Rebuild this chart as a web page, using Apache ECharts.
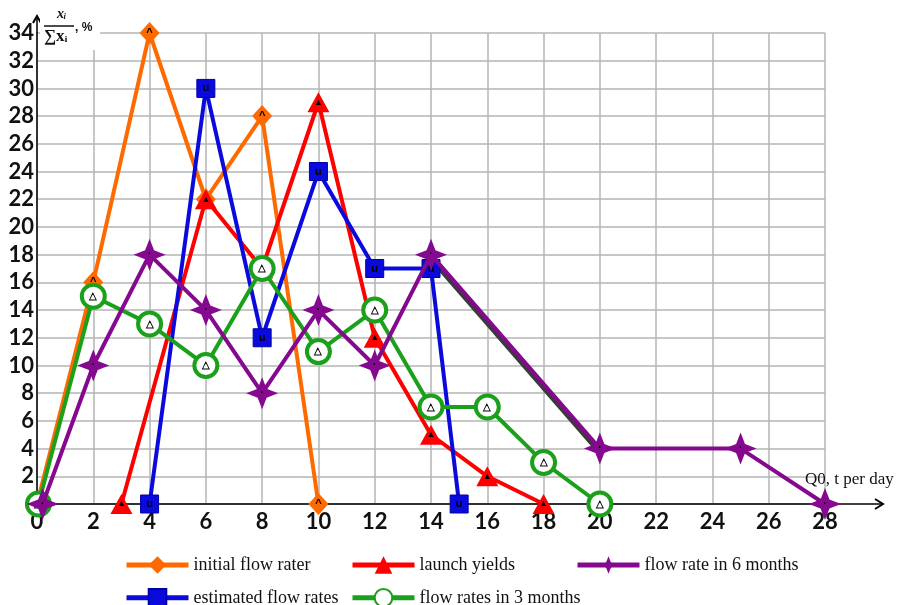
<!DOCTYPE html>
<html><head><meta charset="utf-8">
<script src="https://cdn.jsdelivr.net/npm/echarts@6/dist/echarts.min.js"></script>
<style>html,body{margin:0;padding:0;background:#fff}#c{width:906px;height:605px}</style>
</head><body><div id="c"></div>
<script>
const xTicks = [0,2,4,6,8,10,12,14,16,18,20,22,24,26,28];
const yTicks = [2,4,6,8,10,12,14,16,18,20,22,24,26,28,30,32,34];
const seriesNames = ['initial flow rater','launch yields','flow rate in 6 months','estimated flow rates','flow rates in 3 months'];
const initialFlow = [[0,0],[2,16],[4,34],[6,22],[8,28],[10,0]];
const launchYields = [[3,0],[6,22],[8,17],[10,29],[12,12],[14,5],[16,2],[18,0]];
const sixMonths = [[0.2,0],[2,10],[4,18],[6,14],[8,8],[10,14],[12,10],[14,18],[20,4],[25,4],[28,0]];
const sixMonthsShade = [[13.9,17.9],[19.9,3.9]];
const estimated = [[4,0],[6,30],[8,12],[10,24],[12,17],[14,17],[15,0]];
const threeMonths = [[0.05,0],[2,15],[4,13],[6,10],[8,17],[10,11],[12,14],[14,7],[16,7],[18,3],[20,0]];

const star = 'path://M0,-10 L2.8,-2.8 L10,0 L2.8,2.8 L0,10 L-2.8,2.8 L-10,0 L-2.8,-2.8 Z';
const chart = echarts.init(document.getElementById('c'), null, {renderer:'canvas'});
const lbl = (t, size) => ({show:true, position:'inside', formatter:t, color:'#000', fontSize:size||10, fontWeight:'bold'});
const legTxt = {fontFamily:'Liberation Serif', fontSize:18, color:'#111'};
function leg(name, left, top){
  return {data:[name], left:left, top:top, padding:0, itemWidth:62, itemHeight:22, itemGap:0,
    lineStyle:{width:5}, textStyle:legTxt, selectedMode:false};
}
const option = {
  animation:false,
  backgroundColor:'#fff',
  grid:{left:37, right:81, top:33, bottom:101},
  legend:[
    leg(seriesNames[0],124,556),
    leg(seriesNames[1],350,556),
    leg(seriesNames[2],575,556),
    leg(seriesNames[3],124,588),
    leg(seriesNames[4],350,588)
  ],
  xAxis:{type:'value', min:0, max:28, interval:2,
    axisLine:{show:true, onZero:false, lineStyle:{color:'#000', width:1.5}},
    axisTick:{show:false},
    splitLine:{show:true, lineStyle:{color:'#b5b5b5', width:1.5}},
    axisLabel:{margin:7, color:'#111', fontFamily:'Lato', fontWeight:'bold', fontSize:22,
      formatter:v => xTicks.includes(v) ? String(v) : ''}
  },
  yAxis:{type:'value', min:0, max:34, interval:2,
    axisLine:{show:true, onZero:false, lineStyle:{color:'#000', width:1.5}},
    axisTick:{show:false},
    splitLine:{show:true, lineStyle:{color:'#b5b5b5', width:1.5}},
    axisLabel:{margin:3, color:'#111', fontFamily:'Lato', fontWeight:'bold', fontSize:22,
      formatter:v => yTicks.includes(v) ? String(v) : ''}
  },
  series:[
    {name:seriesNames[0], type:'line', data:initialFlow, color:'#ff6a00', symbol:'diamond', symbolSize:[20,22],
      lineStyle:{width:4, color:'#ff6a00'}, itemStyle:{color:'#ff6a00'}, label:lbl('^',11), z:2},
    {name:seriesNames[1], type:'line', data:launchYields, color:'#ff0000', symbol:'triangle', symbolSize:[22,20],
      lineStyle:{width:4, color:'#ff0000'}, itemStyle:{color:'#ff0000'}, label:lbl('▲',9), z:3},
    {name:'shade', type:'line', data:sixMonthsShade, symbol:'none', lineStyle:{width:4, color:'#3a3a3a'}, z:3, silent:true},
    {name:seriesNames[3], type:'line', data:estimated, color:'#0a0adc', symbol:'rect', symbolSize:18,
      lineStyle:{width:4, color:'#0a0adc'}, itemStyle:{color:'#0a0adc', borderColor:'#0000aa', borderWidth:1}, label:lbl('u',11), z:4},
    {name:seriesNames[4], type:'line', data:threeMonths, color:'#1aa01a', symbol:'circle', symbolSize:23,
      lineStyle:{width:4, color:'#1aa01a'}, itemStyle:{color:'#ffffff', borderColor:'#1aa01a', borderWidth:4}, label:lbl('△',10), z:5},
    {name:seriesNames[2], type:'line', data:sixMonths, color:'#85098f', symbol:star, symbolSize:[32,32],
      lineStyle:{width:4, color:'#85098f'}, itemStyle:{color:'#85098f'}, label:lbl('·',10), z:6}
  ]
};
chart.setOption(option);
const o = chart.convertToPixel({gridIndex:0}, [0,0]);
const xr = chart.convertToPixel({gridIndex:0}, [28,34]);
chart.setOption({graphic:[
  {type:'line', shape:{x1:xr[0], y1:o[1], x2:xr[0]+58, y2:o[1]}, style:{stroke:'#000', lineWidth:1.5}},
  {type:'polyline', shape:{points:[[xr[0]+50,o[1]-5],[xr[0]+58,o[1]],[xr[0]+50,o[1]+5]]}, style:{stroke:'#000', lineWidth:2, fill:null}},
  {type:'line', shape:{x1:o[0], y1:xr[1], x2:o[0], y2:xr[1]-17}, style:{stroke:'#000', lineWidth:1.5}},
  {type:'polyline', shape:{points:[[o[0]-4,xr[1]-10],[o[0],xr[1]-17],[o[0]+4,xr[1]-10]]}, style:{stroke:'#000', lineWidth:2, fill:null}},
  {type:'rect', shape:{x:o[0]+3, y:0, width:60, height:xr[1]+17}, style:{fill:'#fff'}, z:10},
  {type:'text', left:57, top:7, z:11, style:{text:'xᵢ', fontFamily:'Liberation Serif', fontStyle:'italic', fontWeight:'bold', fontSize:14, fill:'#111'}},
  {type:'line', z:11, shape:{x1:44, y1:26, x2:74, y2:26}, style:{stroke:'#111', lineWidth:1.5}},
  {type:'text', left:44, top:28, z:11, style:{text:'∑xᵢ', fontFamily:'Liberation Serif', fontWeight:'bold', fontSize:17, fill:'#111'}},
  {type:'text', left:75, top:22, z:11, style:{text:', %', fontFamily:'Liberation Sans', fontWeight:'bold', fontSize:12, fill:'#111'}},
  {type:'text', left:xr[0]-20, top:o[1]-33, z:11, style:{text:'Q0, t per day', fontFamily:'Liberation Serif', fontSize:17, fill:'#111'}}
]});
</script></body></html>
